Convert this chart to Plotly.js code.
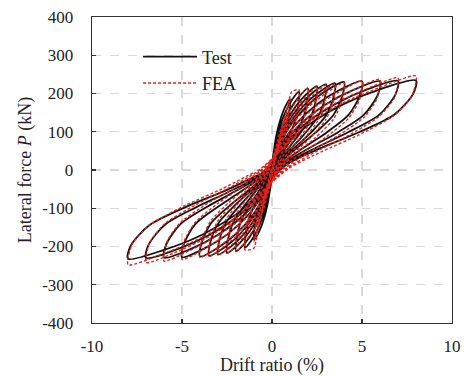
<!DOCTYPE html>
<html>
<head>
<meta charset="utf-8">
<script src="https://cdn.plot.ly/plotly-3.0.1.min.js"></script>
<style>html,body{margin:0;padding:0;background:#fff;}#chart{width:465px;height:376px;}</style>
</head>
<body>
<div id="chart"></div>
<script>
// Test: drift ratio (%) — one row per loading cycle (pos. reload, pos. unload, neg. reload, neg. unload)
const testDrift = [0,
  0.06, 0.13, 0.25, 0.38, 0.5,  0.49, 0.43, 0.3, 0.18, 0.05,  -0.06, -0.13, -0.25, -0.38, -0.5,  -0.49, -0.43, -0.3, -0.18, -0.05,
  0.13, 0.25, 0.5, 0.75, 1.0,  0.98, 0.85, 0.6, 0.35, 0.1,  -0.13, -0.25, -0.5, -0.75, -1.0,  -0.98, -0.85, -0.6, -0.35, -0.1,
  0.19, 0.38, 0.75, 1.13, 1.5,  1.47, 1.28, 0.9, 0.53, 0.15,  -0.19, -0.38, -0.75, -1.13, -1.5,  -1.47, -1.28, -0.9, -0.53, -0.15,
  0.25, 0.5, 1.0, 1.5, 2.0,  1.96, 1.7, 1.2, 0.7, 0.2,  -0.25, -0.5, -1.0, -1.5, -2.0,  -1.96, -1.7, -1.2, -0.7, -0.2,
  0.31, 0.63, 1.25, 1.88, 2.5,  2.45, 2.13, 1.5, 0.88, 0.25,  -0.31, -0.63, -1.25, -1.88, -2.5,  -2.45, -2.13, -1.5, -0.88, -0.25,
  0.38, 0.75, 1.5, 2.25, 3.0,  2.94, 2.55, 1.8, 1.05, 0.3,  -0.38, -0.75, -1.5, -2.25, -3.0,  -2.94, -2.55, -1.8, -1.05, -0.3,
  0.44, 0.88, 1.75, 2.63, 3.5,  3.43, 2.98, 2.1, 1.23, 0.35,  -0.44, -0.88, -1.75, -2.63, -3.5,  -3.43, -2.98, -2.1, -1.23, -0.35,
  0.5, 1.0, 2.0, 3.0, 4.0,  3.92, 3.4, 2.4, 1.4, 0.4,  -0.5, -1.0, -2.0, -3.0, -4.0,  -3.92, -3.4, -2.4, -1.4, -0.4,
  0.63, 1.25, 2.5, 3.75, 5.0,  4.9, 4.25, 3.0, 1.75, 0.5,  -0.63, -1.25, -2.5, -3.75, -5.0,  -4.9, -4.25, -3.0, -1.75, -0.5,
  0.75, 1.5, 3.0, 4.5, 6.0,  5.88, 5.1, 3.6, 2.1, 0.6,  -0.75, -1.5, -3.0, -4.5, -6.0,  -5.88, -5.1, -3.6, -2.1, -0.6,
  0.88, 1.75, 3.5, 5.25, 7.0,  6.86, 5.95, 4.2, 2.45, 0.7,  -0.88, -1.75, -3.5, -5.25, -7.0,  -6.86, -5.95, -4.2, -2.45, -0.7,
  1.0, 2.0, 4.0, 6.0, 8.0,  7.84, 6.8, 4.8, 2.8, 0.8,  -1.0, -2.0, -4.0, -6.0, -8.0,  -7.84, -6.8, -4.8, -2.8, -0.8
];
// Test: lateral force P (kN)
const testForce = [0,
  37, 58, 85, 104, 115,  98, 71, 48, 29, 7,  -36, -56, -83, -101, -112,  -95, -69, -47, -28, -7,
  59, 93, 137, 167, 185,  157, 115, 78, 46, 11,  -58, -91, -135, -164, -182,  -155, -113, -76, -46, -11,
  66, 103, 152, 185, 205,  174, 127, 86, 51, 12,  -65, -102, -150, -183, -203,  -173, -126, -85, -51, -12,
  68, 107, 158, 192, 213,  181, 132, 89, 53, 13,  -68, -106, -157, -191, -212,  -180, -131, -89, -53, -13,
  70, 110, 162, 197, 219,  186, 136, 92, 55, 13,  -69, -109, -161, -195, -217,  -184, -135, -91, -54, -13,
  72, 112, 166, 202, 224,  190, 139, 94, 56, 13,  -71, -111, -164, -199, -221,  -188, -137, -93, -55, -13,
  73, 114, 168, 204, 227,  193, 141, 95, 57, 14,  -72, -112, -166, -202, -224,  -190, -139, -94, -56, -13,
  74, 115, 170, 207, 230,  196, 143, 97, 58, 14,  -72, -113, -167, -203, -226,  -192, -140, -95, -57, -14,
  74, 116, 172, 209, 232,  197, 144, 97, 58, 14,  -73, -114, -169, -205, -228,  -194, -141, -96, -57, -14,
  74, 116, 172, 209, 232,  197, 144, 97, 58, 14,  -73, -115, -169, -206, -229,  -195, -142, -96, -57, -14,
  75, 117, 172, 210, 233,  198, 144, 98, 58, 14,  -74, -115, -170, -207, -230,  -196, -143, -97, -58, -14,
  75, 117, 173, 211, 234,  199, 145, 98, 59, 14,  -74, -116, -172, -209, -232,  -197, -144, -97, -58, -14
];
// FEA: drift ratio (%)
const feaDrift = [0,
  0.06, 0.13, 0.25, 0.38, 0.5,  0.49, 0.43, 0.3, 0.18, 0.06,  -0.06, -0.13, -0.25, -0.38, -0.5,  -0.49, -0.43, -0.3, -0.18, -0.06,
  0.13, 0.25, 0.5, 0.75, 1.0,  0.97, 0.85, 0.6, 0.35, 0.12,  -0.13, -0.25, -0.5, -0.75, -1.0,  -0.97, -0.85, -0.6, -0.35, -0.12,
  0.19, 0.45, 0.8, 1.1, 1.5,  1.46, 1.28, 0.9, 0.53, 0.18,  -0.19, -0.45, -0.75, -1.02, -1.5,  -1.46, -1.28, -0.9, -0.53, -0.18,
  0.25, 0.5, 1.0, 1.5, 2.0,  1.94, 1.7, 1.2, 0.7, 0.24,  -0.25, -0.5, -1.0, -1.5, -2.0,  -1.94, -1.7, -1.2, -0.7, -0.24,
  0.31, 0.63, 1.25, 1.88, 2.5,  2.43, 2.13, 1.5, 0.88, 0.3,  -0.31, -0.63, -1.25, -1.88, -2.5,  -2.43, -2.13, -1.5, -0.88, -0.3,
  0.38, 0.75, 1.5, 2.25, 3.0,  2.91, 2.55, 1.8, 1.05, 0.36,  -0.38, -0.75, -1.5, -2.25, -3.0,  -2.91, -2.55, -1.8, -1.05, -0.36,
  0.44, 0.88, 1.75, 2.63, 3.5,  3.4, 2.98, 2.1, 1.23, 0.42,  -0.44, -0.88, -1.75, -2.63, -3.5,  -3.4, -2.98, -2.1, -1.23, -0.42,
  0.5, 1.0, 2.0, 3.0, 4.0,  3.88, 3.4, 2.4, 1.4, 0.48,  -0.5, -1.0, -2.0, -3.0, -4.0,  -3.88, -3.4, -2.4, -1.4, -0.48,
  0.63, 1.25, 2.5, 3.75, 5.0,  4.85, 4.25, 3.0, 1.75, 0.6,  -0.63, -1.25, -2.5, -3.75, -5.0,  -4.85, -4.25, -3.0, -1.75, -0.6,
  0.75, 1.5, 3.0, 4.5, 6.0,  5.82, 5.1, 3.6, 2.1, 0.72,  -0.75, -1.5, -3.0, -4.5, -6.0,  -5.82, -5.1, -3.6, -2.1, -0.72,
  0.88, 1.75, 3.5, 5.25, 7.0,  6.79, 5.95, 4.2, 2.45, 0.84,  -0.88, -1.75, -3.5, -5.25, -7.0,  -6.79, -5.95, -4.2, -2.45, -0.84,
  1.0, 2.0, 4.0, 6.0, 8.0,  7.76, 6.8, 4.8, 2.8, 0.96,  -1.0, -2.0, -4.0, -6.0, -8.0,  -7.76, -6.8, -4.8, -2.8, -0.96
];
// FEA: lateral force P (kN)
const feaForce = [0,
  14, 27, 50, 73, 95,  88, 76, 53, 31, 8,  -13, -26, -49, -71, -93,  -86, -74, -52, -30, -8,
  30, 52, 98, 144, 190,  165, 135, 95, 55, 10,  -30, -51, -97, -142, -188,  -163, -133, -94, -54, -10,
  36, 84, 150, 205, 210,  164, 122, 78, 42, 4,  -36, -86, -150, -205, -209,  -163, -121, -77, -42, -4,
  65, 108, 155, 189, 215,  168, 125, 80, 43, 4,  -64, -107, -154, -188, -214,  -167, -124, -79, -43, -4,
  65, 109, 157, 192, 218,  170, 126, 81, 44, 4,  -65, -109, -157, -192, -218,  -170, -126, -81, -44, -4,
  67, 111, 160, 195, 222,  173, 129, 82, 44, 4,  -67, -112, -161, -196, -223,  -174, -129, -83, -45, -4,
  68, 113, 162, 198, 225,  176, 131, 83, 45, 5,  -68, -113, -163, -199, -226,  -176, -131, -84, -45, -5,
  68, 114, 164, 201, 228,  178, 132, 84, 46, 5,  -69, -115, -165, -202, -229,  -179, -133, -85, -46, -5,
  70, 117, 168, 205, 233,  182, 135, 86, 47, 5,  -70, -117, -168, -206, -234,  -183, -136, -87, -47, -5,
  71, 119, 171, 209, 237,  185, 137, 88, 47, 5,  -71, -119, -171, -209, -238,  -186, -138, -88, -48, -5,
  72, 121, 174, 212, 241,  188, 140, 89, 48, 5,  -73, -121, -174, -213, -242,  -189, -140, -90, -48, -5,
  74, 123, 177, 216, 246,  192, 143, 91, 49, 5,  -74, -124, -179, -218, -248,  -193, -144, -92, -50, -5
];
const seriesNames = ['Test', 'FEA'];
const xTicks = [-10, -5, 0, 5, 10];
const yTicks = [-400, -300, -200, -100, 0, 100, 200, 300, 400];

const FONT = '"Liberation Serif", "Times New Roman", serif';

const traces = [
  {x: testDrift, y: testForce, name: seriesNames[0], type: 'scatter', mode: 'lines',
   line: {color: '#111111', width: 1.8, shape: 'spline', smoothing: 0.8}},
  {x: feaDrift, y: feaForce, name: seriesNames[1], type: 'scatter', mode: 'lines',
   line: {color: '#e3201b', width: 1.4, dash: '3px,2px', shape: 'spline', smoothing: 0.6}}
];

const axisCommon = {
  showline: true, mirror: true, linecolor: '#333', linewidth: 1.3,
  ticks: 'inside', ticklen: 4, tickwidth: 1.2, tickcolor: '#333',
  showgrid: true, gridcolor: '#d9d9d9', gridwidth: 1.3, griddash: 'dash',
  zeroline: false, tickfont: {family: FONT, size: 17, color: '#222'}
};

const layout = {
  width: 465, height: 376,
  margin: {l: 92, r: 13, t: 17, b: 53},
  paper_bgcolor: '#fff', plot_bgcolor: '#fff',
  font: {family: FONT, color: '#222'},
  showlegend: true,
  legend: {x: 0.128, y: 0.93, xanchor: 'left', yanchor: 'top', bgcolor: 'rgba(0,0,0,0)',
           font: {family: FONT, size: 18, color: '#222'}, itemwidth: 54, tracegroupgap: 0},
  xaxis: Object.assign({}, axisCommon, {
    range: [-10, 10], tickvals: xTicks, ticktext: xTicks.map(String),
    ticklabelstandoff: 7,
    title: {text: 'Drift ratio (%)', font: {family: FONT, size: 18, color: '#222'}, standoff: 2}
  }),
  yaxis: Object.assign({}, axisCommon, {
    range: [-400, 400], tickvals: yTicks, ticktext: yTicks.map(String),
    ticklabelstandoff: 14,
    title: {text: 'Lateral force <i>P</i> (kN)', font: {family: FONT, size: 18, color: '#222'}, standoff: 5}
  })
};

Plotly.newPlot('chart', traces, layout, {displayModeBar: false, staticPlot: true});
</script>
</body>
</html>
